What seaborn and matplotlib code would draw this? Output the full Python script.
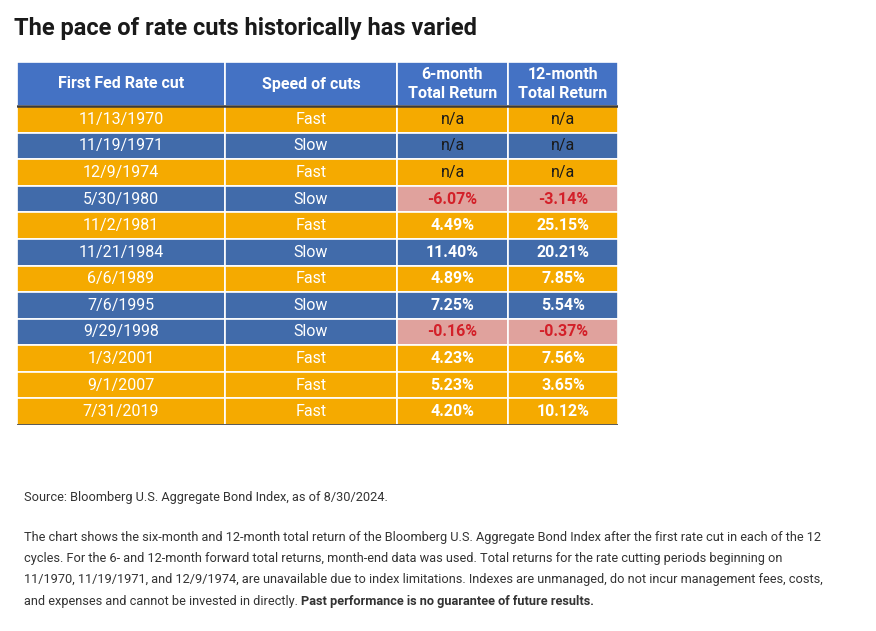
import matplotlib
matplotlib.use("Agg")
import matplotlib.pyplot as plt
import seaborn as sns
from matplotlib.patches import Rectangle

sns.set_theme(style="white")
plt.rcParams["font.family"] = ["Roboto", "DejaVu Sans"]

headers = ["First Fed Rate cut", "Speed of cuts", "6-month\nTotal Return", "12-month\nTotal Return"]
dates = ["11/13/1970", "11/19/1971", "12/9/1974", "5/30/1980", "11/2/1981", "11/21/1984",
         "6/6/1989", "7/6/1995", "9/29/1998", "1/3/2001", "9/1/2007", "7/31/2019"]
speeds = ["Fast", "Slow", "Fast", "Slow", "Fast", "Slow", "Fast", "Slow", "Slow", "Fast", "Fast", "Fast"]
ret_6m = [None, None, None, -6.07, 4.49, 11.40, 4.89, 7.25, -0.16, 4.23, 5.23, 4.20]
ret_12m = [None, None, None, -3.14, 25.15, 20.21, 7.85, 5.54, -0.37, 7.56, 3.65, 10.12]

# layout in pixel units
col_edges = [17, 225, 397, 508, 618]
header_top, header_bottom, table_bottom = 62, 106, 425

HEADER = "#4472C4"
ORANGE = "#F5AA00"
BLUE = "#416BAA"
PINK = "#E0A29D"
RED = "#D32029"

fig = plt.figure(figsize=(8.76, 6.31), dpi=100)
ax = fig.add_axes([col_edges[0] / 876, 1 - table_bottom / 631,
                   (col_edges[-1] - col_edges[0]) / 876, (table_bottom - header_top) / 631])
ax.set_xlim(col_edges[0], col_edges[-1])
ax.set_ylim(table_bottom, header_top)
ax.axis("off")

row_h = (table_bottom - header_bottom) / len(dates)


def cell(ci, y0, h, color, text, tcolor, weight="normal", size=11.5):
    x0, x1 = col_edges[ci], col_edges[ci + 1]
    ax.add_patch(Rectangle((x0, y0), x1 - x0, h, facecolor=color, edgecolor="white", lw=1.2))
    ax.text((x0 + x1) / 2, y0 + h / 2, text, ha="center", va="center", color=tcolor,
            fontsize=size, fontweight=weight, linespacing=1.3)


for ci, h in enumerate(headers):
    cell(ci, header_top, header_bottom - header_top, HEADER, h, "white", "bold", 11.5)

for ri, (d, s, r6, r12) in enumerate(zip(dates, speeds, ret_6m, ret_12m)):
    y0 = header_bottom + ri * row_h
    base = ORANGE if s == "Fast" else BLUE
    cell(0, y0, row_h, base, d, "white")
    cell(1, y0, row_h, base, s, "white")
    for ci, v in ((2, r6), (3, r12)):
        if v is None:
            cell(ci, y0, row_h, base, "n/a", "#1a1a1a")
        elif v < 0:
            cell(ci, y0, row_h, PINK, f"{v:.2f}%", RED, "bold")
        else:
            cell(ci, y0, row_h, base, f"{v:.2f}%", "white", "bold")

ax.plot([col_edges[0], col_edges[-1]], [header_bottom, header_bottom], color="#3a3a3a", lw=1.8)
ax.plot([col_edges[0], col_edges[-1]], [table_bottom - 0.5, table_bottom - 0.5], color="#4a4a4a", lw=2)

fig.text(14 / 876, 1 - 28 / 631, "The pace of rate cuts historically has varied",
         fontsize=17, fontweight="bold", color="#1a1a1a", va="center")

note_color = "#333333"
fs = 9.2
fig.text(24 / 876, 1 - 497 / 631, "Source: Bloomberg U.S. Aggregate Bond Index, as of 8/30/2024.",
         fontsize=fs, color=note_color, va="center")
lines = [
    "The chart shows the six-month and 12-month total return of the Bloomberg U.S. Aggregate Bond Index after the first rate cut in each of the 12",
    "cycles. For the 6- and 12-month forward total returns, month-end data was used. Total returns for the rate cutting periods beginning on",
    "11/1970, 11/19/1971, and 12/9/1974, are unavailable due to index limitations. Indexes are unmanaged, do not incur management fees, costs,",
]
for i, line in enumerate(lines):
    fig.text(24 / 876, 1 - (537 + i * 21.3) / 631, line, fontsize=fs, color=note_color, va="center")

last = fig.text(24 / 876, 1 - 601 / 631, "and expenses and cannot be invested in directly. ",
                fontsize=fs, color=note_color, va="center")
fig.canvas.draw()
bb = last.get_window_extent()
fig.text(bb.x1 / fig.bbox.width, 1 - 601 / 631, "Past performance is no guarantee of future results.",
         fontsize=fs, color=note_color, va="center", fontweight="bold")

fig.savefig("out.png", dpi=100)
